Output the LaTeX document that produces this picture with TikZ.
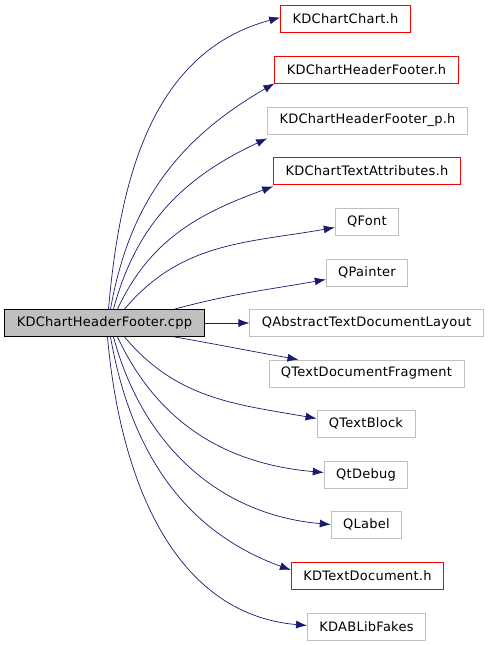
\documentclass[tikz,border=0pt]{standalone}
\usepackage{fontspec}
\setmainfont{DejaVu Sans}[LetterSpace=2]
\usetikzlibrary{arrows.meta}

\tikzset{
  file/.style={draw=black!25, line width=0.8pt, minimum height=27pt, inner xsep=12pt,
    font=\fontsize{13}{15}\selectfont},
  docfile/.style={file, draw=red},
  srcfile/.style={file, draw=black, fill=black!25},
  dep/.style={draw=midnight, line width=0.7pt, -{Latex[length=11pt,width=8pt]}}
}
\definecolor{midnight}{RGB}{25,25,112}

\begin{document}
\begin{tikzpicture}[x=1pt,y=-1pt]
\useasboundingbox (0,0) rectangle (488,645);
\node[srcfile] (src) at (104.5,323) {KDChartHeaderFooter.cpp};
\node[docfile] (chart) at (345.5,18.5) {KDChartChart.h};
\node[docfile] (hf) at (366.5,69.5) {KDChartHeaderFooter.h};
\node[file] (hfp) at (367.5,120.5) {KDChartHeaderFooter\_p.h};
\node[docfile] (txtattr) at (367,170.5) {KDChartTextAttributes.h};
\node[file] (qfont) at (367,221.5) {QFont};
\node[file] (qpainter) at (367,272.5) {QPainter};
\node[file] (qlayout) at (366.5,323) {QAbstractTextDocumentLayout};
\node[file] (qfrag) at (366.5,373.5) {QTextDocumentFragment};
\node[file] (qblock) at (366,423.5) {QTextBlock};
\node[file] (qdebug) at (366,474.5) {QtDebug};
\node[file] (qlabel) at (366.5,524.5) {QLabel};
\node[docfile] (kdtext) at (367.5,576) {KDTextDocument.h};
\node[file] (fakes) at (366.5,626.5) {KDABLibFakes};

% includes above the source
\draw[dep] ([xshift=4pt]src.north) to[out=85,in=195] ([yshift=1pt]chart.west);
\draw[dep] ([xshift=6pt]src.north) to[out=80,in=210] (hf.south west);
\draw[dep] ([xshift=9pt]src.north) to[out=75,in=205] ([yshift=-4pt]hfp.south west);
\draw[dep] ([xshift=13pt]src.north) to[out=65,in=200] ([yshift=-2pt]txtattr.south west);
\draw[dep] ([xshift=20pt]src.north) to[out=50,in=190] ([yshift=-6pt]qfont.west);
\draw[dep] ([xshift=-30pt]src.north east) to[out=15,in=190] ([yshift=-7pt]qpainter.west);
% straight on
\draw[dep] (src) -- (qlayout);
% includes below the source
\draw[dep] ([xshift=-30pt]src.south east) to[out=-10,in=170] ([xshift=30pt]qfrag.north west);
\draw[dep] ([xshift=20pt]src.south) to[out=-50,in=170] ([yshift=5pt]qblock.west);
\draw[dep] ([xshift=13pt]src.south) to[out=-65,in=175] ([yshift=2pt]qdebug.west);
\draw[dep] ([xshift=9pt]src.south) to[out=-75,in=175] (qlabel.west);
\draw[dep] ([xshift=6pt]src.south) to[out=-80,in=160] ([yshift=6pt]kdtext.west);
\draw[dep] ([xshift=3pt]src.south) to[out=-85,in=175] ([yshift=1pt]fakes.west);
\end{tikzpicture}
\end{document}
